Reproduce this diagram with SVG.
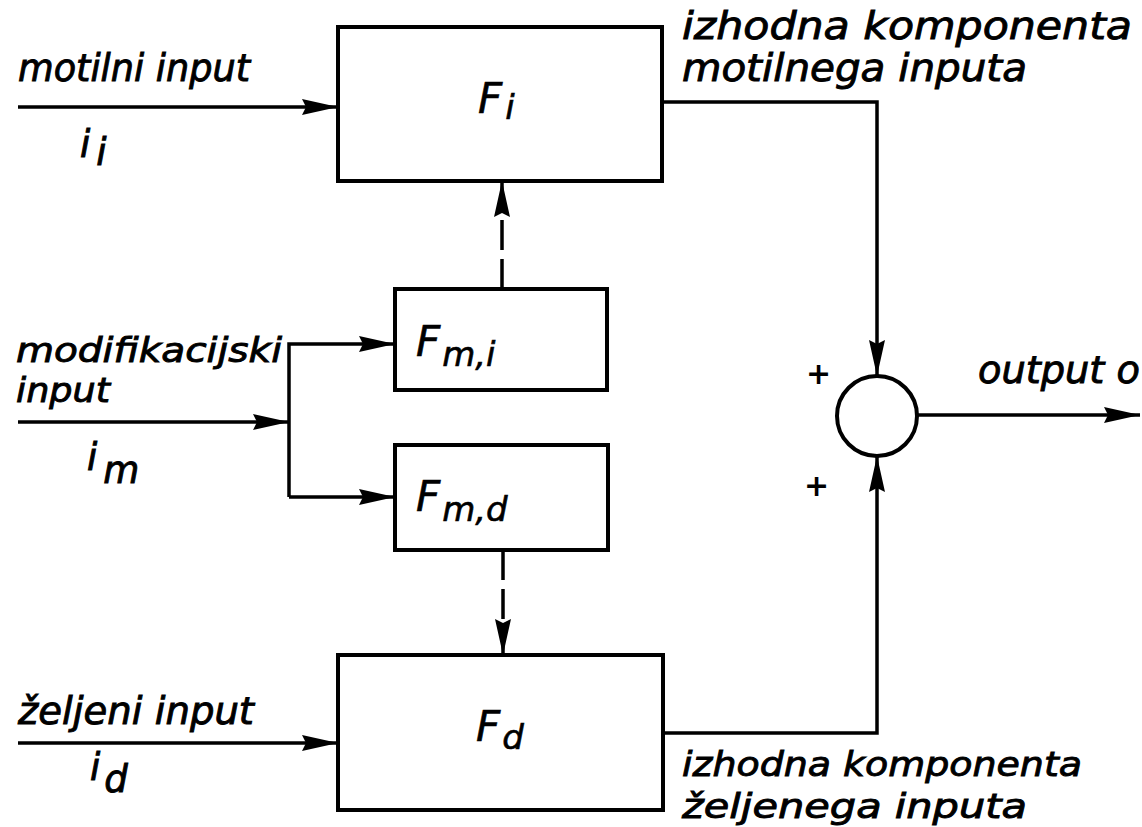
<svg xmlns="http://www.w3.org/2000/svg" width="1142" height="827" viewBox="0 0 1142 827">
<style>
.t{font-family:"DejaVu Sans","Liberation Sans",sans-serif;font-style:italic;font-size:37px;fill:#000;stroke:#000;stroke-width:0.9}
.t2{font-size:34px}
.f{font-family:"DejaVu Sans","Liberation Sans",sans-serif;font-style:italic;font-size:42px;fill:#000;stroke:#000;stroke-width:0.6}
.s{font-size:34px}
.box{fill:none;stroke:#000;stroke-width:4}
.ln{fill:none;stroke:#000;stroke-width:3.5}
.dash{fill:none;stroke:#000;stroke-width:3.5;stroke-dasharray:30 9}
.pl{font-family:"DejaVu Sans",sans-serif;font-weight:bold;font-size:30px}
</style>
<defs>
<marker id="ah" viewBox="0 0 36 16" refX="36" refY="8" markerWidth="36" markerHeight="16" markerUnits="userSpaceOnUse" orient="auto">
<path d="M0,0 L36,8 L0,16 L4,8 Z" fill="#000"/>
</marker>
</defs>
<rect width="1142" height="827" fill="#fff"/>

<g id="Fi">
<rect class="box" x="338" y="27" width="324" height="154"/>
<text class="f" x="478" y="113">F<tspan class="s" dx="3" dy="6">i</tspan></text>
</g>
<g id="Fmi">
<rect class="box" x="395" y="289" width="212" height="101"/>
<text class="f" x="416" y="356">F<tspan class="s" dx="2" dy="10">m,i</tspan></text>
</g>
<g id="Fmd">
<rect class="box" x="395" y="445" width="213" height="105"/>
<text class="f" x="416" y="511">F<tspan class="s" dx="2" dy="10">m,d</tspan></text>
</g>
<g id="Fd">
<rect class="box" x="338" y="655" width="325" height="155"/>
<text class="f" x="476" y="741">F<tspan class="s" dx="2" dy="8">d</tspan></text>
</g>
<g id="sum">
<circle class="box" cx="877" cy="416" r="40"/>
<text class="pl" x="806" y="384">+</text>
<text class="pl" x="804" y="496">+</text>
</g>

<g id="connectors">
<line class="ln" x1="18" y1="107" x2="338" y2="107" marker-end="url(#ah)"/>
<line class="ln" x1="18" y1="422" x2="289" y2="422" marker-end="url(#ah)"/>
<polyline class="ln" points="289,497 289,344 395,344" marker-end="url(#ah)"/>
<line class="ln" x1="289" y1="497" x2="395" y2="497" marker-end="url(#ah)"/>
<line class="ln" x1="18" y1="743" x2="338" y2="743" marker-end="url(#ah)"/>
<line class="dash" x1="502" y1="289" x2="502" y2="181" marker-end="url(#ah)"/>
<line class="dash" x1="503" y1="550" x2="503" y2="655" marker-end="url(#ah)"/>
<polyline class="ln" points="662,102 877,102 877,376" marker-end="url(#ah)"/>
<polyline class="ln" points="663,733 877,733 877,456" marker-end="url(#ah)"/>
<line class="ln" x1="917" y1="415" x2="1140" y2="415" marker-end="url(#ah)"/>
</g>

<g id="labels">
<text class="t" x="18" y="81" textLength="232" lengthAdjust="spacingAndGlyphs">motilni input</text>
<text class="t" x="80" y="157">i<tspan dx="6" dy="8">i</tspan></text>
<text class="t" x="682" y="39" textLength="450" lengthAdjust="spacingAndGlyphs">izhodna komponenta</text>
<text class="t" x="682" y="81" textLength="345" lengthAdjust="spacingAndGlyphs">motilnega inputa</text>
<text class="t t2" x="16" y="362" textLength="266" lengthAdjust="spacingAndGlyphs">modifikacijski</text>
<text class="t t2" x="16" y="402" textLength="94" lengthAdjust="spacingAndGlyphs">input</text>
<text class="t" x="87" y="470">i<tspan dx="6" dy="13">m</tspan></text>
<text class="t" x="978" y="383" textLength="162" lengthAdjust="spacingAndGlyphs">output o</text>
<text class="t" x="18" y="724" textLength="236" lengthAdjust="spacingAndGlyphs">željeni input</text>
<text class="t" x="90" y="780">i<tspan dx="4" dy="12">d</tspan></text>
<text class="t t2" x="682" y="776" textLength="400" lengthAdjust="spacingAndGlyphs">izhodna komponenta</text>
<text class="t t2" x="682" y="818" textLength="345" lengthAdjust="spacingAndGlyphs">željenega inputa</text>
</g>
</svg>
